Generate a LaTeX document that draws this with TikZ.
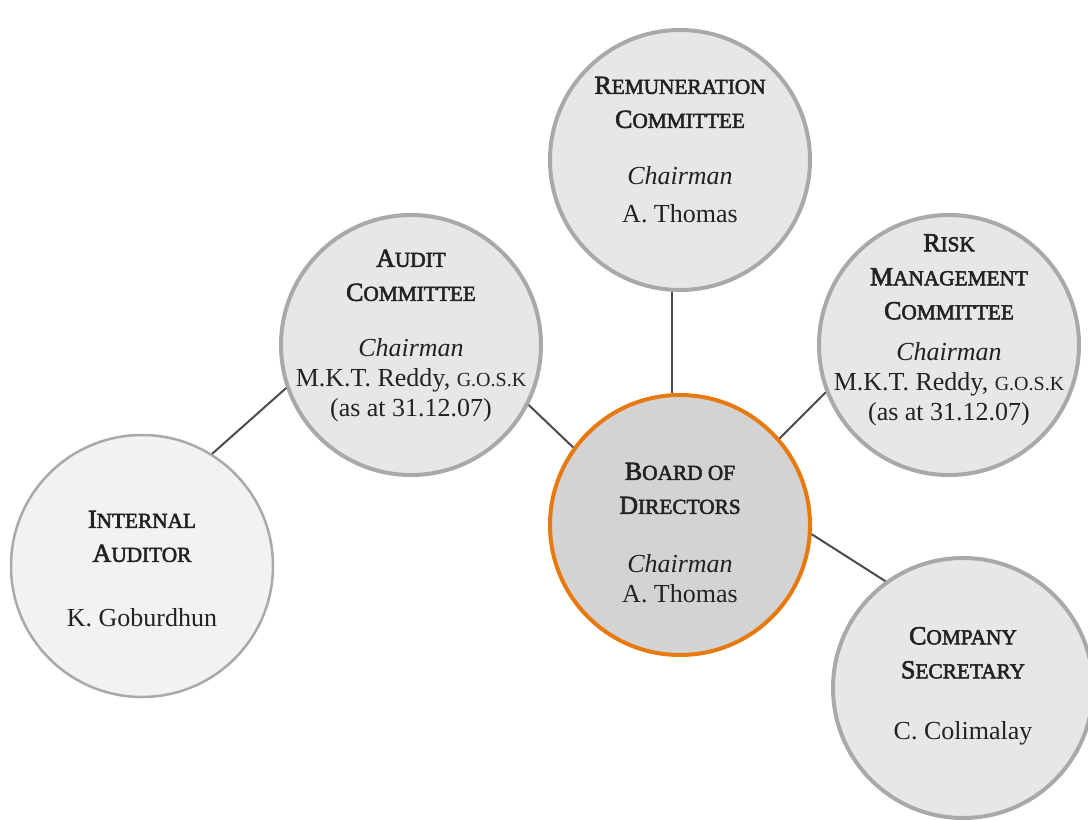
\documentclass[tikz,border=0pt]{standalone}
\usepackage{fontspec}
\setmainfont{Liberation Serif}
\newfontfamily\headfont[FakeBold=2.5]{Liberation Serif}
\definecolor{ringgray}{HTML}{A9A9A9}
\definecolor{fillmain}{HTML}{E7E7E7}
\definecolor{filllight}{HTML}{F2F2F2}
\definecolor{fillboard}{HTML}{D3D3D3}
\definecolor{boardorange}{HTML}{E8790E}
\definecolor{linkgray}{HTML}{4A4A4A}
\definecolor{inkcol}{HTML}{222222}
\newcommand{\hsc}[2]{{\headfont\fontsize{26}{30}\selectfont #1\fontsize{21.3}{30}\selectfont #2}}
\newcommand{\rsc}[1]{{\fontsize{20}{30}\selectfont #1}}
\tikzset{
  circ/.style={circle, draw=ringgray, line width=4pt, fill=fillmain, minimum size=260pt, inner sep=0pt},
  circlight/.style={circle, draw=ringgray, line width=2.5pt, fill=filllight, minimum size=262pt, inner sep=0pt},
  circboard/.style={circle, draw=boardorange, line width=4pt, fill=fillboard, minimum size=260pt, inner sep=0pt},
  txt/.style={align=center, text=inkcol, inner sep=0pt, font=\fontsize{26}{30}\selectfont},
  link/.style={draw=linkgray, line width=2pt}
}
\begin{document}
\begin{tikzpicture}[x=1pt,y=-1pt]
\useasboundingbox (0,0) rectangle (1088,820);
\clip (0,0) rectangle (1088,820);
\fill[white] (0,0) rectangle (1088,820);
% circles
\node[circ] (rem) at (680,160) {};
\node[circ] (aud) at (411,345) {};
\node[circ] (risk) at (949,345) {};
\node[circboard] (board) at (680,525) {};
\node[circlight] (int) at (142,566) {};
\node[circ] (sec) at (963,688) {};
% connectors
\draw[link] ([xshift=-8pt]rem.south) -- ([xshift=-8pt]board.north);
\draw[link] (aud.-27) -- (board.144);
\draw[link] (risk.201) -- (board.41);
\draw[link] (board.-4.3) -- (sec.126);
\draw[link] (aud.199) -- (int.58.4);
% texts
\node[txt] (remtxt) at (680,150) {\hsc{R}{EMUNERATION}\\[4pt]\hsc{C}{OMMITTEE}\\[27pt]\textit{Chairman}\\[8pt]A. Thomas};
\node[txt] (audtxt) at (411,336) {\hsc{A}{UDIT}\\[4pt]\hsc{C}{OMMITTEE}\\[26pt]\textit{Chairman}\\M.K.T. Reddy, \rsc{G.O.S.K}\\(as at 31.12.07)};
\node[txt] (risktxt) at (949,330) {\hsc{R}{ISK}\\[4pt]\hsc{M}{ANAGEMENT}\\[4pt]\hsc{C}{OMMITTEE}\\[11pt]\textit{Chairman}\\M.K.T. Reddy, \rsc{G.O.S.K}\\(as at 31.12.07)};
\node[txt] (boardtxt) at (680,533) {\hsc{B}{OARD OF}\\[4pt]\hsc{D}{IRECTORS}\\[29pt]\textit{Chairman}\\A. Thomas};
\node[txt] (inttxt) at (142,569) {\hsc{I}{NTERNAL}\\[4pt]\hsc{A}{UDITOR}\\[35pt]K. Goburdhun};
\node[txt] (sectxt) at (963,686) {\hsc{C}{OMPANY}\\[4pt]\hsc{S}{ECRETARY}\\[31pt]C. Colimalay};
\end{tikzpicture}
\end{document}
